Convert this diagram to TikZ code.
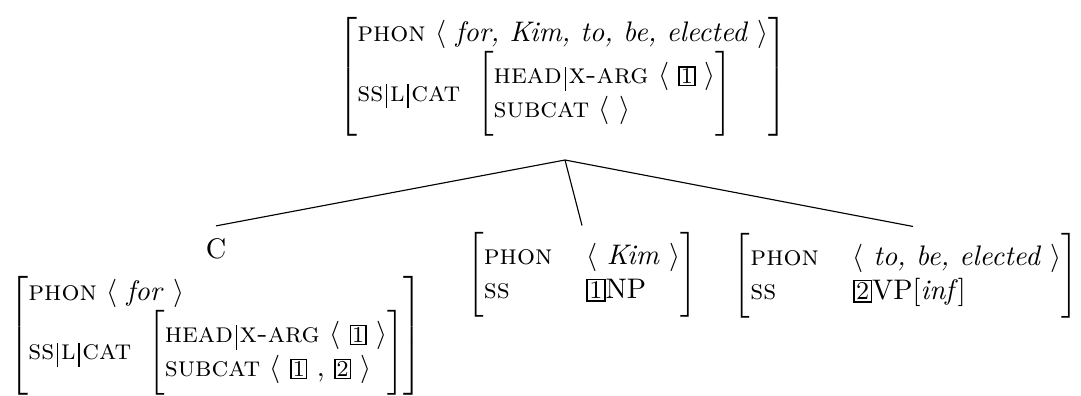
\documentclass[tikz,border=0pt]{standalone}
\usepackage{tikz}
\usetikzlibrary{positioning}

% feature names, path bars, tags and lists
\newcommand{\feat}[1]{\textsc{#1}}
\newcommand{\pbar}{\kern1pt\rule[-2.5pt]{0.4pt}{8.6pt}\kern1pt}
\newcommand{\tagnum}[1]{{\setlength{\fboxsep}{0.4pt}\setlength{\fboxrule}{0.5pt}\fbox{\footnotesize#1}}}
\newcommand{\bigtag}[1]{{\setlength{\fboxsep}{0.5pt}\setlength{\fboxrule}{0.6pt}\fbox{\small#1}}}
\newcommand{\alist}[1]{$\langle$\ #1\ $\rangle$}
\newcommand{\nolist}{$\langle$\ $\rangle$}
% outer matrices, and small ones with a roomier bracket
\newcommand{\avm}[2][l]{$\left[\begin{tabular}{@{}#1@{}}#2\end{tabular}\right]$}
\newcommand{\subavm}[2][l]{$\delimitershortfall=-1pt\left[\begin{tabular}{@{}#1@{}}#2\end{tabular}\right]$}

\begin{document}
\begin{tikzpicture}[x=0.3534pt, y=-0.3534pt,
    avmnode/.style={inner sep=0pt, outer sep=0pt}]
  \useasboundingbox (0,0) rectangle (1081,395);

  % mother
  \node[avmnode] (root) at (563,77) {\avm{%
      \feat{phon} \alist{\textit{for, Kim, to, be, elected}}\\
      \feat{ss}\pbar\feat{l}\pbar\feat{cat}\hspace{6pt}\subavm{%
        \feat{head}\pbar\feat{x-arg} \alist{\tagnum{1}}\\
        \feat{subcat} \nolist}}};
  \coordinate (apex) at (565,160);

  % daughters
  \node (cat) at (216,249) {C};
  \node[avmnode, below=2.5pt of cat] (cavm) {\avm{%
      \feat{phon} \alist{\textit{for}}\\
      \feat{ss}\pbar\feat{l}\pbar\feat{cat}\hspace{6pt}\subavm{%
        \feat{head}\pbar\feat{x-arg} \alist{\tagnum{1}}\\
        \feat{subcat} \alist{\tagnum{1} , \tagnum{2}}}}};
  \node[avmnode] (np) at (582,275) {\subavm[ll]{%
      \feat{phon} & \alist{\textit{Kim}}\\
      \feat{ss} & \bigtag{1}NP}};
  \node[avmnode] (vp) at (906,276) {\subavm[ll]{%
      \feat{phon} & \alist{\textit{to, be, elected}}\\
      \feat{ss} & \bigtag{2}VP[\textit{inf}]}};

  \draw (apex) -- ([yshift=1pt]cat.north);
  \draw (apex) -- ([yshift=2.5pt]np.north);
  \draw (apex) -- ([xshift=2.5pt,yshift=2.5pt]vp.north);
\end{tikzpicture}
\end{document}
